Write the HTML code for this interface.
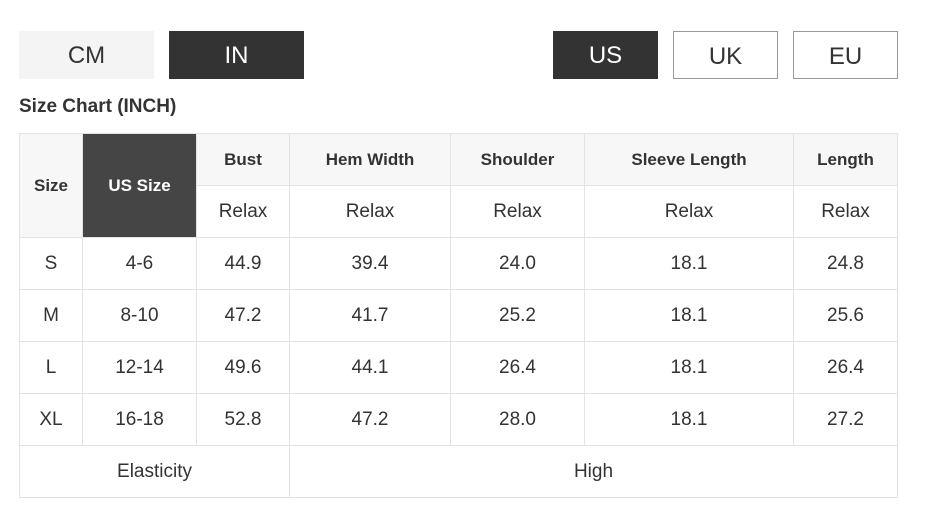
<!DOCTYPE html>
<html><head><style>
body{margin:0;width:927px;height:526px;background:#fff;font-family:"Liberation Sans",sans-serif;color:#333;position:relative;overflow:hidden}
.b{position:absolute;top:31px;height:48px;line-height:50px;text-align:center;font-size:24px;box-sizing:border-box;font-weight:500}
.t{position:absolute;left:19px;top:96px;font-size:19px;font-weight:bold;color:#333}
table{position:absolute;left:19px;top:133px;border-collapse:collapse;table-layout:fixed;width:878px}
td{border:1px solid #e3e3e3;text-align:center;font-size:19px;height:51px;padding:0;color:#333}
th{border:1px solid #e3e3e3;background:#f7f7f7;font-size:17px;font-weight:bold;height:51px;padding:0;color:#333}
</style></head><body>
<div class="b" style="left:19px;width:135px;background:#f4f4f4">CM</div>
<div class="b" style="left:169px;width:135px;background:#333;color:#fff">IN</div>
<div class="b" style="left:553px;width:105px;background:#333;color:#fff">US</div>
<div class="b" style="left:673px;width:105px;border:1px solid #999">UK</div>
<div class="b" style="left:793px;width:105px;border:1px solid #999">EU</div>
<div class="t">Size Chart (INCH)</div>
<table>
<colgroup><col style="width:63px"><col style="width:114px"><col style="width:93px"><col style="width:161px"><col style="width:134px"><col style="width:209px"><col style="width:104px"></colgroup>
<tr><th rowspan="2">Size</th><th rowspan="2" style="background:#454545;color:#fff">US Size</th><th>Bust</th><th>Hem Width</th><th>Shoulder</th><th>Sleeve Length</th><th>Length</th></tr>
<tr><td>Relax</td><td>Relax</td><td>Relax</td><td>Relax</td><td>Relax</td></tr>
<tr><td>S</td><td>4-6</td><td>44.9</td><td>39.4</td><td>24.0</td><td>18.1</td><td>24.8</td></tr>
<tr><td>M</td><td>8-10</td><td>47.2</td><td>41.7</td><td>25.2</td><td>18.1</td><td>25.6</td></tr>
<tr><td>L</td><td>12-14</td><td>49.6</td><td>44.1</td><td>26.4</td><td>18.1</td><td>26.4</td></tr>
<tr><td>XL</td><td>16-18</td><td>52.8</td><td>47.2</td><td>28.0</td><td>18.1</td><td>27.2</td></tr>
<tr><td colspan="3">Elasticity</td><td colspan="4">High</td></tr>
</table>
</body></html>
